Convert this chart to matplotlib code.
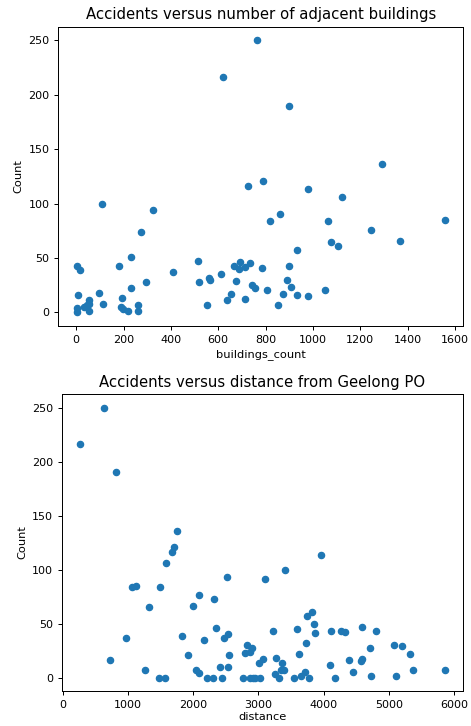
import numpy as np
import matplotlib
matplotlib.use('Agg')
import matplotlib.pyplot as plt

# accidents vs adjacent buildings
buildings_count = [763, 622, 901, 1293, 107, 324, 273, 725, 789, 5,
                   16, 179, 231, 407, 515, 520, 563, 565, 611, 666,
                   694, 687, 712, 733, 787, 677, 742, 756, 808, 653,
                   639, 715, 553, 293, 231, 95, 6, 111, 193, 188,
                   197, 218, 259, 259, 54, 54, 44, 32, 2, 2,
                   54, 980, 1123, 863, 818, 1064, 1558, 1247, 1367, 1078,
                   1106, 933, 901, 892, 909, 875, 933, 980, 1050, 851]
count_b = [250, 216, 190, 136, 100, 94, 74, 116, 121, 43,
           39, 43, 51, 37, 47, 28, 32, 30, 35, 43,
           46, 40, 42, 45, 41, 29, 25, 22, 21, 17,
           11, 12, 7, 28, 22, 18, 16, 8, 13, 5,
           3, 1, 7, 1, 11, 8, 7, 5, 4, 0,
           1, 113, 106, 90, 84, 84, 85, 76, 66, 65,
           61, 57, 43, 30, 23, 17, 16, 15, 21, 7]

# accidents vs distance from Geelong PO
distance = [628, 266, 822, 1756, 1710, 1679, 1582, 2516, 3103, 1056,
            1128, 1485, 2082, 2317, 1990, 1322, 2353, 2532, 2465, 1832,
            975, 2159, 2827, 2899, 2863, 2792, 2552, 1919, 730, 3072,
            3001, 2414, 2541, 1261, 2042, 2082, 1470, 1572, 2205, 2307,
            2445, 2766, 2868, 2919, 2945, 3016, 3960, 3399, 3822, 3746,
            3858, 3873, 3225, 3588, 4118, 4271, 4327, 4592, 4806, 3726,
            4705, 5077, 5200, 5322, 3618, 3261, 3363, 4384, 4592, 4572,
            4093, 5363, 5858, 3343, 3389, 3251, 3312, 3720, 3649, 3542,
            3772, 4445, 4170, 4730, 5113]
count_d = [250, 216, 190, 136, 121, 116, 106, 93, 91, 84,
           85, 84, 76, 73, 66, 65, 46, 40, 37, 38,
           37, 35, 30, 27, 24, 23, 21, 21, 16, 17,
           13, 10, 10, 7, 7, 4, 0, 0, 0, 0,
           0, 0, 0, 0, 0, 0, 113, 100, 61, 57,
           50, 41, 43, 45, 43, 43, 42, 47, 43, 32,
           27, 30, 29, 22, 22, 18, 13, 16, 17, 15,
           12, 7, 7, 7, 7, 3, 0, 5, 1, 0,
           0, 5, 0, 1, 1]

plt.rcParams['axes.labelsize'] = 9.2
plt.rcParams['xtick.labelsize'] = 9
plt.rcParams['ytick.labelsize'] = 9

DPI = 89
fig = plt.figure(figsize=(471 / DPI, 726 / DPI), dpi=DPI)
ax1 = fig.add_axes([0.1238, 0.551, 0.86, 0.4122])
ax2 = fig.add_axes([0.131, 0.0482, 0.8527, 0.4091])

ax1.scatter(buildings_count, count_b, s=26, c='C0')
ax1.set_title('Accidents versus number of adjacent buildings')
ax1.set_xlabel('buildings_count')
ax1.set_ylabel('Count')

ax2.scatter(distance, count_d, s=26, c='C0')
ax2.set_title('Accidents versus distance from Geelong PO')
ax2.set_xlabel('distance', labelpad=1.5)
ax2.set_ylabel('Count')

fig.savefig('out.png', dpi=DPI)
